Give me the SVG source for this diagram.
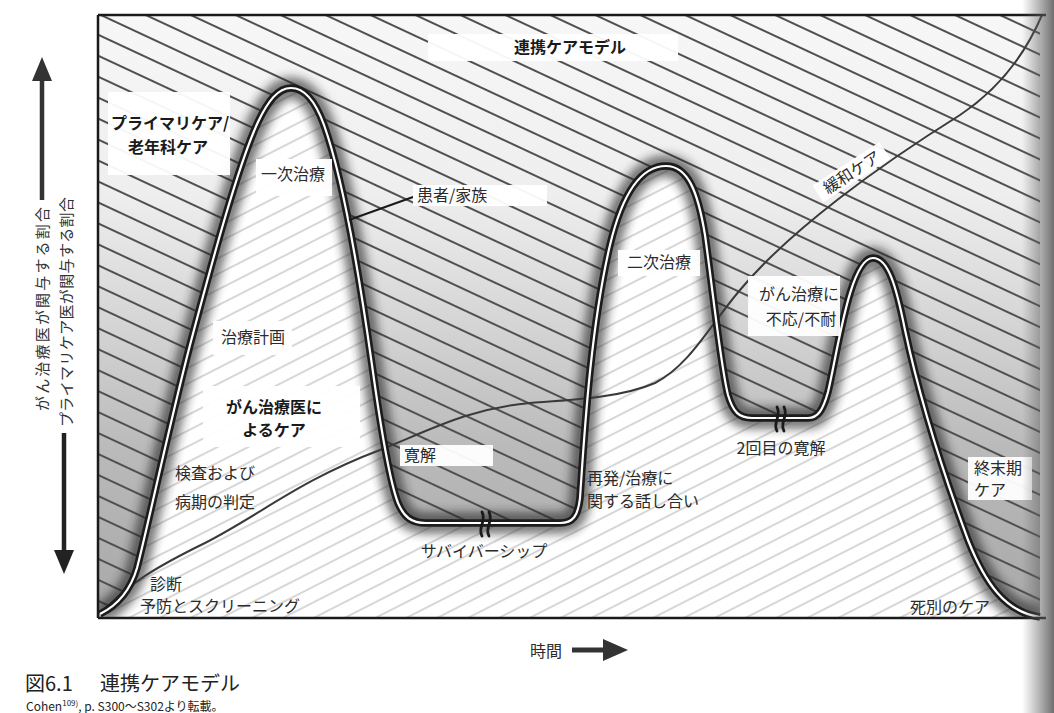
<svg xmlns="http://www.w3.org/2000/svg" xmlns:xlink="http://www.w3.org/1999/xlink" width="1054" height="713" viewBox="0 0 1054 713">
  <style>
    .lbl { font-family: 'Noto Sans CJK JP', 'Noto Sans', sans-serif; font-size: 16px; fill: #2b2b2b; }
    .bold { font-weight: bold; fill: #1a1a1a; }
    .box { fill: #ffffff; opacity: 0.95; }
    .ax { font-family: 'Noto Sans CJK JP', 'Noto Sans', sans-serif; font-size: 15px; fill: #333; }
    .cap { font-family: 'Noto Sans CJK JP', 'Noto Sans', sans-serif; fill: #222; }
    .brk { fill: none; stroke: #1a1a1a; stroke-width: 2.8; stroke-linecap: round; }
  </style>
  <defs>
    <linearGradient id="gA" gradientUnits="userSpaceOnUse" x1="0" y1="15" x2="0" y2="617">
      <stop offset="0" stop-color="#f7f7f7"/>
      <stop offset="0.3" stop-color="#eeeeee"/>
      <stop offset="0.52" stop-color="#d4d4d4"/>
      <stop offset="0.72" stop-color="#bababa"/>
      <stop offset="1" stop-color="#a8a8a8"/>
    </linearGradient>
    <linearGradient id="gutter" x1="0" y1="0" x2="1" y2="0">
      <stop offset="0" stop-color="#666" stop-opacity="0"/>
      <stop offset="1" stop-color="#555" stop-opacity="0.85"/>
    </linearGradient>
    <pattern id="hatchDark" patternUnits="userSpaceOnUse" width="40" height="19" patternTransform="rotate(25)">
      <line x1="-2" y1="9" x2="42" y2="9" stroke="#505050" stroke-width="2"/>
    </pattern>
    <pattern id="hatchLight" patternUnits="userSpaceOnUse" width="40" height="14" patternTransform="rotate(-27)">
      <line x1="-2" y1="7" x2="42" y2="7" stroke="#b0b0b0" stroke-width="1.2"/>
    </pattern>
    <filter id="blur" x="-10%" y="-10%" width="120%" height="120%">
      <feGaussianBlur stdDeviation="5"/>
    </filter>
    <clipPath id="frameClip">
      <rect x="98" y="15" width="942" height="603"/>
    </clipPath>
    <path id="mainCurve" d="M 100 614 C 116 606, 130 592, 137 568 C 147 530, 168 430, 190 345 C 212 262, 238 165, 258 122 C 268 101, 278 88, 291 88 C 304 88, 315 100, 324 125 C 342 175, 360 280, 372 365 C 381 430, 390 482, 398 503 C 404 517, 411 523, 426 523 L 560 523 C 573 523, 578 516, 580 498 C 584 440, 590 330, 610 245 C 622 195, 640 166, 666 166 C 688 166, 698 192, 705 235 C 714 300, 721 368, 728 395 C 733 412, 739 418, 752 418 L 808 418 C 818 418, 823 410, 828 392 C 838 350, 850 258, 873 258 C 888 258, 896 285, 905 330 C 920 400, 945 478, 968 540 C 985 583, 1005 612, 1040 617"/>
    <path id="brkMark" d="M 0 12 C -5 4, 5 -3, 0 -12 M 7 12 C 2 4, 12 -3, 7 -12"/>
  </defs>

  <rect x="0" y="0" width="1054" height="713" fill="#ffffff"/>

  <g id="plot-background" clip-path="url(#frameClip)">
    <rect x="98" y="15" width="942" height="603" fill="url(#gA)"/>
    <rect x="98" y="15" width="942" height="603" fill="url(#hatchDark)"/>
    <path d="M 100 614 C 116 606, 130 592, 137 568 C 147 530, 168 430, 190 345 C 212 262, 238 165, 258 122 C 268 101, 278 88, 291 88 C 304 88, 315 100, 324 125 C 342 175, 360 280, 372 365 C 381 430, 390 482, 398 503 C 404 517, 411 523, 426 523 L 560 523 C 573 523, 578 516, 580 498 C 584 440, 590 330, 610 245 C 622 195, 640 166, 666 166 C 688 166, 698 192, 705 235 C 714 300, 721 368, 728 395 C 733 412, 739 418, 752 418 L 808 418 C 818 418, 823 410, 828 392 C 838 350, 850 258, 873 258 C 888 258, 896 285, 905 330 C 920 400, 945 478, 968 540 C 985 583, 1005 612, 1040 617 L 1040 620 L 96 620 Z" fill="#ffffff"/>
    <path d="M 100 614 C 116 606, 130 592, 137 568 C 147 530, 168 430, 190 345 C 212 262, 238 165, 258 122 C 268 101, 278 88, 291 88 C 304 88, 315 100, 324 125 C 342 175, 360 280, 372 365 C 381 430, 390 482, 398 503 C 404 517, 411 523, 426 523 L 560 523 C 573 523, 578 516, 580 498 C 584 440, 590 330, 610 245 C 622 195, 640 166, 666 166 C 688 166, 698 192, 705 235 C 714 300, 721 368, 728 395 C 733 412, 739 418, 752 418 L 808 418 C 818 418, 823 410, 828 392 C 838 350, 850 258, 873 258 C 888 258, 896 285, 905 330 C 920 400, 945 478, 968 540 C 985 583, 1005 612, 1040 617 L 1040 620 L 96 620 Z" fill="url(#hatchLight)"/>
    <use xlink:href="#mainCurve" fill="none" stroke="#222" stroke-width="22" opacity="0.6" filter="url(#blur)"/>
  </g>

  <g id="connectors">
    <path id="palliative-curve" d="M 103 612 C 125 585, 160 565, 205 543 C 260 515, 300 480, 380 450 C 430 430, 470 408, 530 403 C 570 400, 620 398, 655 383 C 690 365, 710 325, 740 290 C 790 230, 880 165, 960 115 C 1000 88, 1025 55, 1042 15" fill="none" stroke="#3a3a3a" stroke-width="2"/>
    <g id="patient-curve">
      <use xlink:href="#mainCurve" fill="none" stroke="#1c1c1c" stroke-width="7.5"/>
      <use xlink:href="#mainCurve" fill="none" stroke="#ffffff" stroke-width="2.2"/>
    </g>
    <use xlink:href="#brkMark" x="482" y="524" class="brk"/>
    <use xlink:href="#brkMark" x="777" y="419" class="brk"/>
    <line id="patient-leader" x1="413" y1="197" x2="349" y2="220" stroke="#1a1a1a" stroke-width="2"/>
  </g>

  <g id="frame" fill="none" stroke="#1a1a1a" stroke-width="2.5">
    <line x1="98" y1="15" x2="1046" y2="15"/>
    <line x1="98" y1="15" x2="98" y2="618"/>
    <line x1="98" y1="618" x2="1046" y2="618"/>
  </g>

  <g id="node-title">
    <rect class="box" x="428" y="34" width="250" height="27"/>
    <text class="lbl bold" x="570" y="53" text-anchor="middle">連携ケアモデル</text>
  </g>
  <g id="node-primary-care">
    <rect class="box" x="108" y="92" width="122" height="83"/>
    <text class="lbl bold" x="170" y="129" text-anchor="middle">プライマリケア/</text>
    <text class="lbl bold" x="168" y="153" text-anchor="middle">老年科ケア</text>
  </g>
  <g id="node-first-treatment">
    <rect class="box" x="256" y="159" width="76" height="37"/>
    <text class="lbl" x="293" y="180" text-anchor="middle">一次治療</text>
  </g>
  <g id="node-patient-family">
    <rect class="box" x="413" y="185" width="134" height="21"/>
    <text class="lbl" x="417" y="201">患者/家族</text>
  </g>
  <g id="node-palliative">
    <g transform="translate(852,173) rotate(-33)">
      <rect class="box" x="-40" y="-11" width="80" height="20" opacity="0.7"/>
      <text class="lbl" x="0" y="5" text-anchor="middle" font-size="15">緩和ケア</text>
    </g>
  </g>
  <g id="node-second-treatment">
    <rect class="box" x="618" y="250" width="82" height="26"/>
    <text class="lbl" x="659" y="268" text-anchor="middle">二次治療</text>
  </g>
  <g id="node-refractory">
    <rect class="box" x="748" y="276" width="92" height="60"/>
    <text class="lbl" x="799" y="300" text-anchor="middle">がん治療に</text>
    <text class="lbl" x="801" y="325" text-anchor="middle">不応/不耐</text>
  </g>
  <g id="node-treatment-plan">
    <rect class="box" x="213" y="321" width="79" height="34"/>
    <text class="lbl" x="253" y="343" text-anchor="middle">治療計画</text>
  </g>
  <g id="node-oncologist-care">
    <rect class="box" x="203" y="386" width="157" height="61"/>
    <text class="lbl bold" x="274" y="413" text-anchor="middle">がん治療医に</text>
    <text class="lbl bold" x="274" y="436" text-anchor="middle">よるケア</text>
  </g>
  <g id="node-remission">
    <rect class="box" x="400" y="445" width="93" height="21"/>
    <text class="lbl" x="404" y="461">寛解</text>
  </g>
  <g id="node-second-remission">
    <text class="lbl" x="781" y="454" text-anchor="middle">2回目の寛解</text>
  </g>
  <g id="node-workup">
    <text class="lbl" x="175" y="479">検査および</text>
    <text class="lbl" x="175" y="508">病期の判定</text>
  </g>
  <g id="node-recurrence">
    <text class="lbl" x="587" y="484">再発/治療に</text>
    <text class="lbl" x="587" y="507">関する話し合い</text>
  </g>
  <g id="node-end-of-life">
    <rect class="box" x="968" y="457" width="64" height="43"/>
    <text class="lbl" x="974" y="474">終末期</text>
    <text class="lbl" x="974" y="496">ケア</text>
  </g>
  <g id="node-survivorship">
    <text class="lbl" x="484" y="557" text-anchor="middle">サバイバーシップ</text>
  </g>
  <g id="node-diagnosis">
    <text class="lbl" x="150" y="590">診断</text>
    <text class="lbl" x="140" y="612">予防とスクリーニング</text>
  </g>
  <g id="node-bereavement">
    <text class="lbl" x="910" y="613">死別のケア</text>
  </g>

  <g id="axis-y">
    <line x1="42" y1="200" x2="42" y2="76" stroke="#333" stroke-width="4.5"/>
    <polygon points="42,57 32,81 52,81" fill="#333"/>
    <text class="ax" transform="translate(41,309) rotate(-90)" text-anchor="middle" dominant-baseline="central" textLength="204" lengthAdjust="spacing">がん治療医が関与する割合</text>
    <text class="ax" transform="translate(65,312) rotate(-90)" text-anchor="middle" dominant-baseline="central" textLength="230" lengthAdjust="spacing">プライマリケア医が関与する割合</text>
    <line x1="64" y1="433" x2="64" y2="555" stroke="#222" stroke-width="4.5"/>
    <polygon points="64,574 54,550 74,550" fill="#222"/>
  </g>

  <g id="axis-x">
    <text class="lbl" x="530" y="657">時間</text>
    <line x1="572" y1="650" x2="606" y2="650" stroke="#333" stroke-width="5"/>
    <polygon points="628,650 603,639 603,661" fill="#333"/>
  </g>

  <g id="caption">
    <text class="cap" x="25" y="691" font-size="20">図6.1<tspan x="100">連携ケアモデル</tspan></text>
    <text class="cap" x="26" y="711" font-size="12" fill="#555">Cohen<tspan font-size="8" dy="-5">109)</tspan><tspan dy="5">, p. S300～S302より転載。</tspan></text>
  </g>

  <rect id="gutter-shade" x="1022" y="0" width="32" height="713" fill="url(#gutter)"/>
</svg>
